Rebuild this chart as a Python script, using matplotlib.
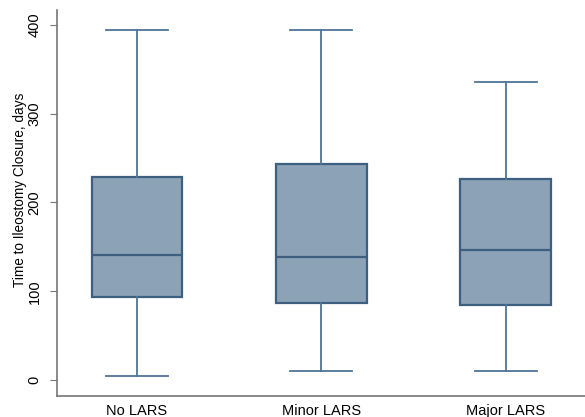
import matplotlib
matplotlib.use("Agg")
import matplotlib.pyplot as plt

groups = ["No LARS", "Minor LARS", "Major LARS"]
whisker_low = [5, 10.5, 10.5]
q1 = [93.5, 87, 84.5]
median = [141, 139, 146]
q3 = [229, 243, 226]
whisker_high = [394, 394, 336]
y_ticks = [0, 100, 200, 300, 400]

plt.rcParams["font.family"] = ["Liberation Sans", "DejaVu Sans"]

fig = plt.figure(figsize=(5.85, 4.17), dpi=100)
ax = fig.add_axes([0.0974, 0.0504, 0.9026, 0.926])

stats = []
for name, lo, a, m, b, hi in zip(groups, whisker_low, q1, median, q3, whisker_high):
    stats.append(dict(label=name, whislo=lo, q1=a, med=m, q3=b, whishi=hi, fliers=[]))

edge = "#3d6080"
line = "#4f7496"
ax.bxp(stats, positions=[1, 2, 3], widths=0.493, patch_artist=True,
       showfliers=False,
       boxprops=dict(facecolor="#8ca2b6", edgecolor=edge, linewidth=1.6),
       medianprops=dict(color=edge, linewidth=1.6),
       whiskerprops=dict(color=line, linewidth=1.3),
       capprops=dict(color=line, linewidth=1.3),
       capwidths=0.336)

ax.set_xlim(0.566, 3.43)
ax.set_ylim(-18, 417)
ax.set_yticks(y_ticks)
ax.set_yticklabels([str(t) for t in y_ticks], rotation=90, va="center", fontsize=10.5)
ax.set_xticks([1, 2, 3])
ax.set_xticklabels(groups, fontsize=10.5)
ax.tick_params(axis="x", length=0, pad=6)
ax.tick_params(axis="y", length=5, color="#777777", pad=6)
ax.set_ylabel("Time to Ileostomy Closure, days", fontsize=9.8)
ax.yaxis.set_label_coords(-0.057, 0.534)

for side in ("top", "right"):
    ax.spines[side].set_visible(False)
for side in ("left", "bottom"):
    ax.spines[side].set_color("#777777")
    ax.spines[side].set_linewidth(1.2)

fig.savefig("out.png", dpi=100)
